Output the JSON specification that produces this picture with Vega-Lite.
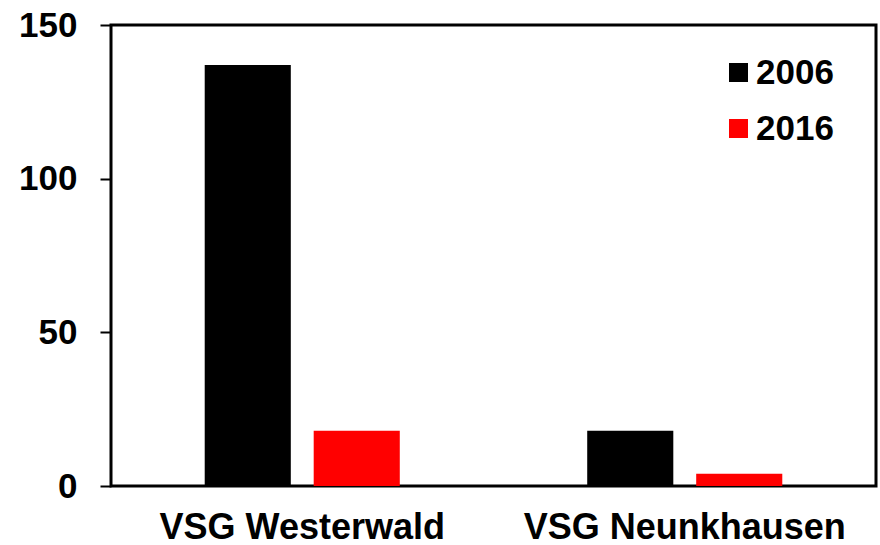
{
  "$schema": "https://vega.github.io/schema/vega-lite/v6.json",
  "autosize": "none",
  "width": 765,
  "height": 461,
  "padding": {"left": 111, "top": 25, "right": 4, "bottom": 59},
  "background": "white",
  "config": {
    "font": "Liberation Sans",
    "view": {"stroke": "black", "strokeWidth": 3},
    "axis": {"grid": false, "labelFont": "Liberation Sans", "labelFontWeight": "bold", "labelColor": "black", "title": null}
  },
  "data": {
    "values": [
      {"site": "VSG Westerwald", "year": "2006", "value": 137},
      {"site": "VSG Westerwald", "year": "2016", "value": 18},
      {"site": "VSG Neunkhausen", "year": "2006", "value": 18},
      {"site": "VSG Neunkhausen", "year": "2016", "value": 4}
    ]
  },
  "mark": {"type": "bar"},
  "encoding": {
    "x": {
      "field": "site", "type": "nominal", "sort": ["VSG Westerwald", "VSG Neunkhausen"],
      "scale": {"paddingInner": 0.49, "paddingOuter": 0.245},
      "axis": {"labelAngle": 0, "domain": false, "ticks": false, "labelFontSize": 36, "labelPadding": 24, "labelLimit": 0, "title": null}
    },
    "xOffset": {"field": "year", "type": "nominal", "scale": {"paddingInner": 0.21, "paddingOuter": 0}},
    "y": {
      "field": "value", "type": "quantitative",
      "scale": {"domain": [0, 150], "nice": false},
      "axis": {"values": [0, 50, 100, 150], "domain": false, "tickColor": "black", "tickWidth": 2, "tickSize": 11, "labelFontSize": 35, "labelPadding": 23, "title": null}
    },
    "color": {
      "field": "year", "type": "nominal",
      "scale": {"domain": ["2006", "2016"], "range": ["#000000", "#ff0000"]},
      "legend": {
        "orient": "none", "legendX": 610, "legendY": 30, "title": null,
        "symbolType": "square", "symbolSize": 361, "symbolStrokeWidth": 0,
        "labelFontSize": 35, "labelFont": "Liberation Sans", "labelFontWeight": "bold", "labelColor": "black",
        "labelOffset": 0, "rowPadding": 20, "padding": 0
      }
    }
  }
}
